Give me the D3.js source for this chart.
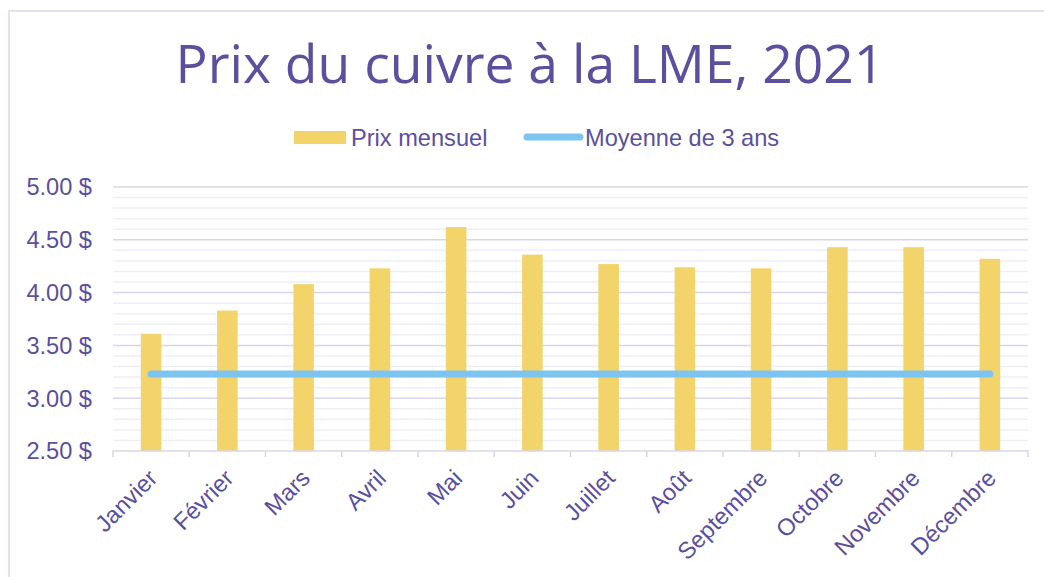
<!DOCTYPE html>
<html>
<head>
<meta charset="utf-8">
<script src="https://cdn.jsdelivr.net/npm/d3@7"></script>
<style>
  body { margin: 0; background: #fff; }
  text { fill: #5b4f9e; }
</style>
</head>
<body>
<div id="chart"></div>
<script>
// DATA
const months = ["Janvier", "Février", "Mars", "Avril", "Mai", "Juin", "Juillet", "Août", "Septembre", "Octobre", "Novembre", "Décembre"];
const prixMensuel = [3.61, 3.83, 4.08, 4.23, 4.62, 4.36, 4.27, 4.24, 4.23, 4.43, 4.43, 4.32];
const moyenne3ans = [3.23, 3.23, 3.23, 3.23, 3.23, 3.23, 3.23, 3.23, 3.23, 3.23, 3.23, 3.23];
const yTicks = [2.5, 3.0, 3.5, 4.0, 4.5, 5.0];
const legendLabels = ["Prix mensuel", "Moyenne de 3 ans"];
const title = "Prix du cuivre à la LME, 2021";

const width = 1044, height = 577;
const margin = {top: 187, right: 16, bottom: 126, left: 113};
const barColor = "#f2d46b";
const lineColor = "#7dc4f0";
const labelFont = "'Liberation Sans', Arial, sans-serif";
const labelSize = "23.6px";

const svg = d3.select("#chart")
  .append("svg")
  .attr("width", width)
  .attr("height", height);

// border of the chart area
svg.append("rect")
  .attr("x", 9).attr("y", 11)
  .attr("width", width + 20).attr("height", height + 20)
  .attr("fill", "none")
  .attr("stroke", "#dcd8ec")
  .attr("stroke-width", 1.5);

// SCALES
const xScale = d3.scaleBand()
  .domain(months)
  .range([margin.left, width - margin.right])
  .padding(0);

const yScale = d3.scaleLinear()
  .domain([2.5, 5.0])
  .range([height - margin.bottom, margin.top]);

// minor gridlines
const minorTicks = d3.range(25, 51).map(d => d / 10).filter(d => Math.round(d * 10) % 5 !== 0);
svg.append("g")
  .selectAll("line")
  .data(minorTicks)
  .join("line")
  .attr("x1", margin.left).attr("x2", width - margin.right)
  .attr("y1", d => yScale(d)).attr("y2", d => yScale(d))
  .attr("stroke", "#efeef6")
  .attr("stroke-width", 1.5);

// major gridlines
svg.append("g")
  .selectAll("line")
  .data(yTicks.filter(d => d > 2.5))
  .join("line")
  .attr("x1", margin.left).attr("x2", width - margin.right)
  .attr("y1", d => yScale(d)).attr("y2", d => yScale(d))
  .attr("stroke", "#d9d5e9")
  .attr("stroke-width", 1.5);

// y labels
svg.append("g")
  .selectAll("text")
  .data(yTicks)
  .join("text")
  .attr("x", 92)
  .attr("y", d => yScale(d))
  .attr("dy", "0.36em")
  .attr("text-anchor", "end")
  .style("font-family", labelFont)
  .style("font-size", labelSize)
  .text(d => d.toFixed(2) + " $");

// BARS
const barW = xScale.bandwidth() * 0.27;
svg.append("g")
  .selectAll("rect")
  .data(prixMensuel)
  .join("rect")
  .attr("x", (d, i) => xScale(months[i]) + xScale.bandwidth() / 2 - barW / 2)
  .attr("y", d => yScale(d))
  .attr("width", barW)
  .attr("height", d => yScale(2.5) - yScale(d))
  .attr("fill", barColor);

// x axis
const xAxis = d3.axisBottom(xScale).tickSize(6).tickFormat("");
const xAxisGroup = svg.append("g")
  .attr("transform", `translate(0, ${yScale(2.5)})`)
  .call(xAxis);
xAxisGroup.select(".domain").attr("stroke", "#d9d5e9").attr("stroke-width", 1.5)
  .attr("d", `M${margin.left},6V0H${width - margin.right}V6`);
// ticks on band boundaries
xAxisGroup.selectAll(".tick").remove();
xAxisGroup.selectAll("line.bound")
  .data(months.slice(1))
  .join("line")
  .attr("class", "bound")
  .attr("x1", d => xScale(d)).attr("x2", d => xScale(d))
  .attr("y1", 0).attr("y2", 6)
  .attr("stroke", "#d9d5e9")
  .attr("stroke-width", 1.5);

// x labels
svg.append("g")
  .selectAll("text")
  .data(months)
  .join("text")
  .attr("transform", d => `translate(${xScale(d) + xScale.bandwidth() / 2 - 4}, ${yScale(2.5) + 17}) rotate(-45)`)
  .attr("text-anchor", "end")
  .attr("dy", "0.7em")
  .style("font-family", labelFont)
  .style("font-size", labelSize)
  .text(d => d);

// LINE
const avgLine = d3.line()
  .x((d, i) => xScale(months[i]) + xScale.bandwidth() / 2)
  .y(d => yScale(d));

svg.append("path")
  .datum(moyenne3ans)
  .attr("d", avgLine)
  .attr("fill", "none")
  .attr("stroke", lineColor)
  .attr("stroke-width", 7)
  .attr("stroke-linecap", "round");

// TITLE
const titleText = svg.append("text")
  .attr("x", 530)
  .attr("y", 83)
  .attr("text-anchor", "middle")
  .style("font-family", "'Open Sans', sans-serif")
  .style("font-weight", 400)
  .style("font-size", "50px")
  .text(title);
// fit title width to about 709px
const tw = titleText.node().getComputedTextLength();
titleText.style("font-size", (50 * 709 / tw) + "px");

// LEGEND
const legend = svg.append("g").style("font-family", labelFont).style("font-size", labelSize);
legend.append("rect")
  .attr("x", 294).attr("y", 131)
  .attr("width", 52).attr("height", 13)
  .attr("fill", barColor);
legend.append("text")
  .attr("x", 351).attr("y", 137.5)
  .attr("dy", "0.36em")
  .text(legendLabels[0]);
legend.append("line")
  .attr("x1", 527).attr("x2", 580)
  .attr("y1", 137).attr("y2", 137)
  .attr("stroke", lineColor)
  .attr("stroke-width", 7)
  .attr("stroke-linecap", "round");
legend.append("text")
  .attr("x", 585).attr("y", 137.5)
  .attr("dy", "0.36em")
  .text(legendLabels[1]);
</script>
</body>
</html>
